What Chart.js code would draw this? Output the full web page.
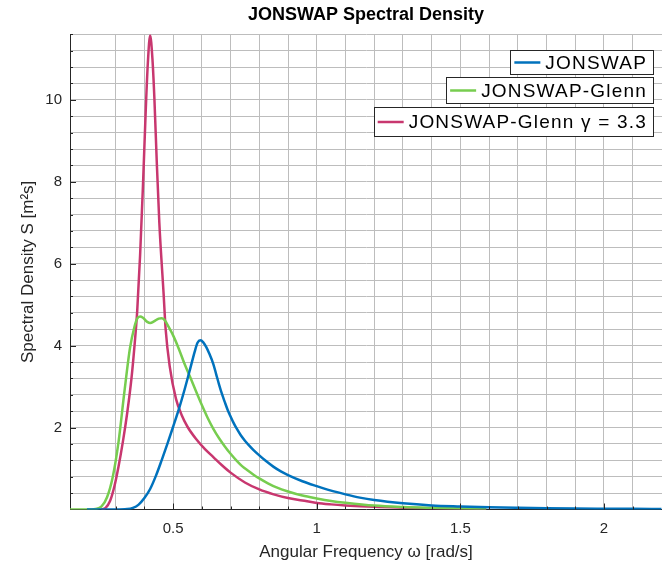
<!DOCTYPE html>
<html><head><meta charset="utf-8">
<script src="https://cdn.jsdelivr.net/npm/chart.js@4.4.1/dist/chart.umd.min.js"></script>
<style>html,body{margin:0;padding:0;background:#fff}canvas{display:block}</style>
</head><body>
<canvas id="c" width="662" height="567"></canvas>
<script>
// ---- data ----
const seriesLabels = ['JONSWAP', 'JONSWAP-Glenn', 'JONSWAP-Glenn \u03b3 = 3.3'];

const jonswapW = [0.20,0.30,0.34,0.36,0.38,0.40,0.42,0.44,0.46,0.48,0.50,0.52,0.54,0.56,0.575,0.585,0.595,0.605,0.615,0.625,0.64,0.65,0.66,0.67,0.68,0.69,0.70,0.71,0.72,0.735,0.75,0.765,0.78,0.80,0.82,0.85,0.875,0.90,0.95,1.00,1.05,1.10,1.15,1.20,1.30,1.40,1.50,1.60,1.70,1.80,1.90,2.00,2.10,2.20];
const jonswapS = [0,0,0.01,0.04,0.12,0.28,0.50,0.82,1.20,1.60,2.02,2.45,2.93,3.45,3.85,4.07,4.13,4.08,3.97,3.82,3.55,3.30,3.05,2.82,2.62,2.43,2.27,2.12,1.99,1.82,1.68,1.56,1.45,1.32,1.20,1.04,0.93,0.84,0.69,0.57,0.46,0.37,0.29,0.23,0.15,0.10,0.075,0.055,0.042,0.032,0.025,0.02,0.016,0.013];

const glennW = [0.141,0.20,0.23,0.25,0.27,0.29,0.31,0.33,0.35,0.365,0.375,0.385,0.395,0.41,0.42,0.435,0.45,0.46,0.47,0.485,0.50,0.52,0.54,0.56,0.58,0.60,0.62,0.64,0.66,0.68,0.70,0.72,0.74,0.76,0.78,0.80,0.83,0.86,0.90,0.95,1.00,1.05,1.10,1.20,1.30,1.40,1.50,1.59];
const glennS = [0,0,0.015,0.07,0.30,0.80,1.65,2.85,3.95,4.45,4.66,4.71,4.68,4.58,4.55,4.60,4.66,4.67,4.63,4.45,4.25,3.92,3.55,3.22,2.88,2.55,2.24,1.97,1.74,1.54,1.36,1.20,1.06,0.95,0.85,0.76,0.64,0.54,0.44,0.34,0.27,0.21,0.165,0.095,0.06,0.04,0.025,0.018];

const glenn33W = [0.25,0.265,0.28,0.295,0.31,0.325,0.34,0.355,0.365,0.375,0.385,0.395,0.405,0.412,0.42,0.428,0.435,0.443,0.452,0.467,0.474,0.488,0.51,0.53,0.55,0.58,0.61,0.64,0.67,0.70,0.75,0.80,0.85,0.90,0.95,1.00,1.05,1.10,1.20,1.30,1.40,1.50,1.59];
const glenn33S = [0,0.04,0.20,0.55,1.05,1.65,2.35,3.20,3.95,4.85,6.2,7.9,9.8,10.9,11.57,11.0,10.0,8.5,7.0,5.25,4.4,3.5,2.7,2.3,2.02,1.72,1.48,1.28,1.08,0.90,0.66,0.49,0.37,0.28,0.22,0.16,0.125,0.10,0.065,0.045,0.03,0.022,0.017];

const xTickLabels = [0.5, 1, 1.5, 2];
const yTickLabels = [2, 4, 6, 8, 10];
const xRange = [0.141, 2.202];
const yRange = [0, 11.6];

// ---- styles ----
const FONT = "'Liberation Sans', Arial, Helvetica, sans-serif";
const colors = ['#0072BD', '#77CD4F', '#C8376F'];
const TXT = '#262626';
const GRID = '#bdbdbd';

function toPts(w, s) { return w.map((v, i) => ({x: v, y: s[i]})); }
function isLabeled(v, list) { return list.some(t => Math.abs(t - v) < 1e-6); }

Chart.defaults.font.family = FONT;

const inwardTicks = {
  id: 'inwardTicks',
  afterDatasetsDraw(chart) {
    const {ctx, chartArea, scales: {x, y}} = chart;
    ctx.save();
    ctx.strokeStyle = TXT;
    ctx.lineWidth = 1;
    ctx.beginPath();
    x.ticks.forEach(t => {
      if (t.value <= x.min + 1e-9 || t.value >= x.max - 1e-9) return;
      const px = Math.round(x.getPixelForValue(t.value)) + 0.5;
      const len = isLabeled(t.value, xTickLabels) ? 6 : 3;
      ctx.moveTo(px, chartArea.bottom);
      ctx.lineTo(px, chartArea.bottom - len);
    });
    y.ticks.forEach(t => {
      if (t.value <= y.min + 1e-9) return;
      const py = Math.round(y.getPixelForValue(t.value)) + 0.5;
      const len = isLabeled(t.value, yTickLabels) ? 6 : 3;
      ctx.moveTo(chartArea.left, py);
      ctx.lineTo(chartArea.left + len, py);
    });
    ctx.stroke();
    ctx.restore();
  }
};

const boxLegend = {
  id: 'boxLegend',
  afterDraw(chart) {
    const ctx = chart.ctx;
    const boxes = [[50.5, 74.5], [77.5, 103.5], [107.5, 136.5]];
    const textRight = 647;
    ctx.save();
    ctx.font = '19px ' + FONT;
    if ('letterSpacing' in ctx) ctx.letterSpacing = '1.2px';
    ctx.textBaseline = 'middle';
    ctx.textAlign = 'left';
    chart.data.datasets.forEach((ds, i) => {
      const [top, bottom] = boxes[i];
      const w = ctx.measureText(ds.label).width;
      const textLeft = textRight - w;
      const lineEnd = textLeft - 5;
      const lineStart = lineEnd - 26;
      const left = Math.round(lineStart - 4) + 0.5;
      const right = textRight + 6.5;
      const cy = (top + bottom) / 2;
      ctx.fillStyle = '#fff';
      ctx.fillRect(left, top, right - left, bottom - top);
      ctx.strokeStyle = TXT;
      ctx.lineWidth = 1;
      ctx.strokeRect(left, top, right - left, bottom - top);
      ctx.strokeStyle = ds.borderColor;
      ctx.lineWidth = 2.5;
      ctx.beginPath();
      ctx.moveTo(lineStart, cy);
      ctx.lineTo(lineEnd, cy);
      ctx.stroke();
      ctx.fillStyle = '#000';
      ctx.fillText(ds.label, textLeft, cy + 1);
    });
    if ('letterSpacing' in ctx) ctx.letterSpacing = '0px';
    ctx.restore();
  }
};

const lineDs = (label, pts, color) => ({
  label, data: pts, borderColor: color, backgroundColor: color,
  borderWidth: 2.5, pointRadius: 0, fill: false,
  cubicInterpolationMode: 'monotone'
});

new Chart(document.getElementById('c'), {
  type: 'line',
  data: {
    datasets: [
      lineDs(seriesLabels[0], toPts(jonswapW, jonswapS), colors[0]),
      lineDs(seriesLabels[1], toPts(glennW, glennS), colors[1]),
      lineDs(seriesLabels[2], toPts(glenn33W, glenn33S), colors[2])
    ]
  },
  options: {
    responsive: false,
    animation: false,
    events: [],
    layout: {padding: 0},
    plugins: {
      legend: {display: false},
      tooltip: {enabled: false},
      title: {
        display: true, text: 'JONSWAP Spectral Density', color: '#000',
        fullSize: false,
        font: {size: 18, weight: 'bold', family: FONT, lineHeight: 1.2},
        padding: {top: 4, bottom: 8.7}
      }
    },
    scales: {
      x: {
        type: 'linear', min: xRange[0], max: xRange[1],
        afterFit(s) { s.height = 57.5; s.paddingLeft = 0; s.paddingRight = 0; },
        grid: {color: GRID, lineWidth: 1, drawTicks: false},
        border: {color: TXT, width: 1},
        ticks: {
          stepSize: 0.1, autoSkip: false, maxRotation: 0, padding: 10, maxTicksLimit: 100,
          color: TXT, font: {size: 15},
          callback: v => isLabeled(v, xTickLabels) ? String(Math.round(v * 10) / 10) : ''
        },
        title: {display: true, text: 'Angular Frequency \u03c9 [rad/s]', color: TXT,
          font: {size: 17, lineHeight: 1.2}, padding: {top: 0, bottom: 4}}
      },
      y: {
        type: 'linear', min: yRange[0], max: yRange[1],
        afterFit(s) { s.width = 70; s.paddingTop = 0; s.paddingBottom = 0; },
        grid: {color: GRID, lineWidth: 1, drawTicks: false},
        border: {color: TXT, width: 1},
        ticks: {
          stepSize: 0.4, autoSkip: false, padding: 8, maxTicksLimit: 100,
          color: TXT, font: {size: 15},
          callback: v => isLabeled(v, yTickLabels) ? String(Math.round(v)) : ''
        },
        title: {display: true, text: 'Spectral Density S [m\u00b2s]', color: TXT,
          font: {size: 17, lineHeight: 1.2}, padding: {top: 18, bottom: 0}}
      }
    }
  },
  plugins: [inwardTicks, boxLegend]
});
</script>
</body></html>
